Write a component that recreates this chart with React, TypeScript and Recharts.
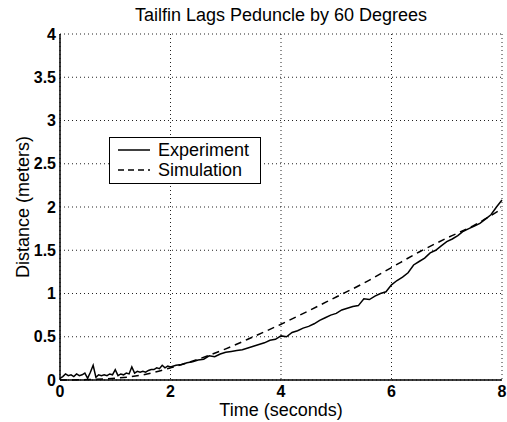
import { LineChart, Line, XAxis, YAxis, CartesianGrid, Legend } from 'recharts'

const expTime = [
    0, 0.05, 0.1, 0.15, 0.2, 0.25, 0.3, 0.35, 0.4, 0.45,
    0.5, 0.55, 0.6, 0.65, 0.7, 0.75, 0.8, 0.85, 0.9, 0.95,
    1.0, 1.05, 1.1, 1.15, 1.2, 1.25, 1.3, 1.35, 1.4, 1.45,
    1.5, 1.55, 1.6, 1.65, 1.7, 1.75, 1.8, 1.85, 1.9, 1.95,
    2.0, 2.1, 2.2, 2.3, 2.4, 2.5, 2.6, 2.7, 2.8, 2.9,
    3.0, 3.1, 3.2, 3.3, 3.4, 3.5, 3.6, 3.7, 3.8, 3.9,
    4.0, 4.1, 4.2, 4.3, 4.4, 4.5, 4.6, 4.7, 4.8, 4.9,
    5.0, 5.1, 5.2, 5.3, 5.4, 5.5, 5.6, 5.7, 5.8, 5.9,
    6.0, 6.1, 6.2, 6.3, 6.4, 6.5, 6.6, 6.7, 6.8, 6.9,
    7.0, 7.1, 7.2, 7.3, 7.4, 7.5, 7.6, 7.7, 7.8, 7.9, 8.0,
]
const expDist = [
    0.02, 0.04, 0.07, 0.05, 0.06, 0.04, 0.07, 0.05, 0.06, 0.08,
    0.02, 0.09, 0.17, 0.03, 0.06, 0.05, 0.06, 0.05, 0.07, 0.06,
    0.12, 0.05, 0.07, 0.06, 0.08, 0.07, 0.15, 0.08, 0.10, 0.09,
    0.10, 0.09, 0.11, 0.12, 0.12, 0.14, 0.13, 0.17, 0.14, 0.16,
    0.15, 0.17, 0.18, 0.20, 0.21, 0.23, 0.24, 0.28, 0.27, 0.30,
    0.32, 0.33, 0.34, 0.35, 0.37, 0.39, 0.41, 0.43, 0.46, 0.47,
    0.51, 0.50, 0.55, 0.57, 0.60, 0.62, 0.65, 0.69, 0.72, 0.75,
    0.77, 0.81, 0.83, 0.85, 0.86, 0.94, 0.93, 0.97, 1.00, 1.02,
    1.10, 1.15, 1.19, 1.24, 1.33, 1.37, 1.41, 1.47, 1.50, 1.55,
    1.60, 1.63, 1.67, 1.72, 1.75, 1.78, 1.81, 1.86, 1.91, 2.00, 2.08,
]

// Simulation: smooth prediction
const simTime = [0, 0.5, 1, 1.5, 2, 2.5, 3, 3.5, 4, 4.5, 5, 5.5, 6, 6.5, 7, 7.5, 8]
const simDist = [0, 0.005, 0.02, 0.06, 0.14, 0.24, 0.36, 0.5, 0.645, 0.8, 0.96, 1.12, 1.3, 1.48, 1.64, 1.79, 1.98]

const xTicks = [0, 2, 4, 6, 8]
const yTicks = [0, 0.5, 1, 1.5, 2, 2.5, 3, 3.5, 4]

const experiment = expTime.map((t, i) => ({ t, d: expDist[i] }))
const simulation = simTime.map((t, i) => ({ t, d: simDist[i] }))

const font = '"Liberation Sans", Arial, Helvetica, sans-serif'
const tickStyle = { fill: '#000', fontSize: 16, fontWeight: 700, fontFamily: font }

function LegendBox() {
    const row = (dash: string | undefined, label: string) => (
        <div style={{ display: 'flex', alignItems: 'center', height: 20 }}>
            <svg width={48} height={20}>
                <line x1={8} x2={40} y1={10} y2={10} stroke="#000" strokeWidth={1.5} strokeDasharray={dash} />
            </svg>
            <span>{label}</span>
        </div>
    )
    return (
        <div style={{
            width: 150, height: 43, border: '1px solid #000', background: '#fff',
            fontFamily: font, fontSize: 18, color: '#000', paddingTop: 2, boxSizing: 'content-box',
        }}>
            {row(undefined, 'Experiment')}
            {row('6 4', 'Simulation')}
        </div>
    )
}

export default function App() {
    return (
        <div style={{ position: 'absolute', left: 0, top: 0, width: 507, height: 422, background: '#fff' }}>
            <div style={{
                position: 'absolute', left: 60, width: 442, top: 5, textAlign: 'center',
                fontFamily: font, fontSize: 18, color: '#000',
            }}>
                Tailfin Lags Peduncle by 60 Degrees
            </div>
            <div style={{
                position: 'absolute', left: 60, width: 442, top: 401, textAlign: 'center',
                fontFamily: font, fontSize: 18, lineHeight: '18px', color: '#000',
            }}>
                Time (seconds)
            </div>
            <div style={{
                position: 'absolute', left: 23, top: 207, width: 200, textAlign: 'center',
                transform: 'translate(-50%, -50%) rotate(-90deg)',
                fontFamily: font, fontSize: 18, color: '#000', lineHeight: '20px',
            }}>
                Distance (meters)
            </div>
            <LineChart width={507} height={422} margin={{ top: 34, right: 5, left: 0, bottom: 0 }}>
                <CartesianGrid stroke="#222" strokeDasharray="1 3" />
                <XAxis
                    dataKey="t" type="number" domain={[0, 8]} ticks={xTicks}
                    height={42} tickSize={0} tickMargin={6} tick={tickStyle}
                    axisLine={{ stroke: '#000', strokeWidth: 1.5 }} allowDuplicatedCategory={false}
                />
                <XAxis
                    xAxisId="top" orientation="top" dataKey="t" type="number" domain={[0, 8]}
                    height={0} tick={false} tickLine={false}
                    axisLine={{ stroke: '#000', strokeWidth: 1.5 }}
                />
                <YAxis
                    type="number" domain={[0, 4]} ticks={yTicks} width={60}
                    tickSize={0} tickMargin={4} tick={tickStyle}
                    axisLine={{ stroke: '#000', strokeWidth: 1.5 }}
                />
                <YAxis
                    yAxisId="right" orientation="right" type="number" domain={[0, 4]}
                    width={0} tick={false} tickLine={false}
                    axisLine={{ stroke: '#000', strokeWidth: 1.5 }}
                />
                <Legend
                    layout="vertical" align="center" verticalAlign="middle"
                    wrapperStyle={{ left: 109, top: 137, width: 'auto' }}
                    content={() => <LegendBox />}
                />
                <Line
                    data={simulation} dataKey="d" name="Simulation" type="monotone"
                    stroke="#000" strokeWidth={1.5} strokeDasharray="7 5"
                    dot={false} isAnimationActive={false}
                />
                <Line
                    data={experiment} dataKey="d" name="Experiment" type="linear"
                    stroke="#000" strokeWidth={1.5}
                    dot={false} isAnimationActive={false}
                />
            </LineChart>
        </div>
    )
}
